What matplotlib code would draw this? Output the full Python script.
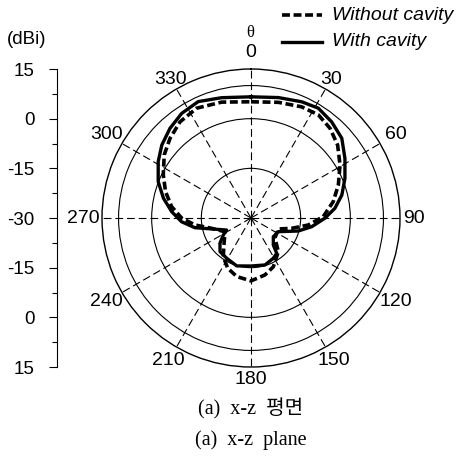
import numpy as np
import matplotlib
matplotlib.use("Agg")
import matplotlib.pyplot as plt

# ---- data (theta in degrees, clockwise from top; gain in dBi) ----
with_theta = [0, 12.8, 23.6, 31.5, 40.0, 48.7, 57.6, 67.1, 75.8, 83.4, 90.2, 98.2, 105.4,
              116.7, 130.0, 140.5, 143.9, 151.0, 163.4, 180, 196.6, 211.1, 222.6, 230.8,
              238.5, 243.7, 254.4, 260.2, 266.9, 274.5, 282.7, 291.4, 301.3, 309.3,
              317.9, 326.5, 335.6, 346.3, 360]
with_db = [6.6, 7.3, 8.3, 8.9, 7.9, 6.5, 3.6, 0.8, -1.7, -4.5, -7.7, -11.5, -15.2,
           -20.8, -21.2, -19.4, -16.8, -16.1, -15.2, -15.5, -14.9, -15.8, -16.2, -17.9,
           -20.2, -21.8, -17.7, -12.8, -9.0, -6.0, -2.9, 0.1, 2.8, 4.8,
           6.5, 7.9, 8.6, 7.4, 6.6]

without_theta = [0, 13.3, 24.5, 33.2, 41.4, 49.9, 59.2, 69.3, 78.8, 89.0, 97.0, 104.2,
                 111.9, 129.8, 137.1, 141.0, 155.4, 166.2, 180, 193.7, 204.9, 215.6,
                 226.1, 242.2, 255.3, 262.9, 269.8, 278.1, 287.1, 296.1, 306.0, 314.5,
                 323.6, 333.7, 345.8, 360]
without_db = [5.1, 5.9, 6.9, 7.2, 6.1, 4.2, 1.3, -1.8, -4.7, -8.2, -12.6, -17.3,
              -21.1, -20.6, -18.5, -16.9, -13.8, -12.3, -11.0, -11.8, -13.3, -15.6,
              -18.7, -21.1, -17.7, -13.0, -9.1, -5.8, -3.0, -0.5, 2.4, 4.3,
              6.1, 7.0, 6.1, 5.1]

angle_labels = ["0", "30", "60", "90", "120", "150", "180", "210", "240", "270", "300", "330"]
radial_circles = [-15, 0, 10]
r_min, r_max = -30, 15
left_ticks = [-45, -30, -15, 0, 15, 30, 45]
left_labels = ["15", "0", "-15", "-30", "-15", "0", "15"]

W, H = 470, 458
fig = plt.figure(figsize=(W / 100, H / 100), dpi=100)
sans = ["Liberation Sans", "DejaVu Sans"]

def fx(x):
    return x / W

def fy(y):
    return 1 - y / H

cx, cy, R = 251, 218, 149
ax = fig.add_axes([fx(cx - R), fy(cy + R), 2 * R / W, 2 * R / H], projection="polar")
ax.set_theta_zero_location("N")
ax.set_theta_direction(-1)
ax.set_rlim(r_min, r_max)
ax.set_rticks(radial_circles)
ax.set_yticklabels([])
ax.set_thetagrids(range(0, 360, 30), labels=[""] * 12)
ax.xaxis.grid(True, color="k", lw=0.8, ls=(0, (7, 3.5)))
ax.yaxis.grid(True, color="k", lw=0.8, ls="-")
ax.spines["polar"].set_linewidth(1.0)
ax.tick_params(axis="x", length=0)

ax.plot(np.radians(without_theta), without_db, color="k", lw=2.6, ls=(0, (2.2, 1.0)),
        solid_joinstyle="round")
ax.plot(np.radians(with_theta), with_db, color="k", lw=2.4, ls="-",
        solid_joinstyle="round")

# angle labels
lab_px = [166, 160, 167, 163, 167, 165, 162, 165, 167, 168, 167, 160]
for i, lab in enumerate(angle_labels):
    rr = r_min + (r_max - r_min) * lab_px[i] / R
    ax.text(np.radians(30 * i), rr, lab, ha="center", va="center",
            fontsize=14, family=sans, clip_on=False)
fig.text(fx(250), fy(33), "θ", ha="center", va="center", fontsize=12,
         family=["Liberation Serif", "DejaVu Serif"])

# left dBi axis
ax2 = fig.add_axes([fx(57), fy(cy + R), 0.0001, 2 * R / H])
ax2.set_ylim(-45, 45)
ax2.set_yticks(left_ticks)
ax2.set_yticklabels(left_labels, fontsize=13.5, family=sans)
ax2.set_yticks(np.arange(-37.5, 45, 15), minor=True)
ax2.tick_params(axis="y", which="major", length=6, width=0.8, pad=10)
ax2.tick_params(axis="y", which="minor", length=3.5, width=0.8)
ax2.set_xticks([])
for s in ["top", "bottom", "right"]:
    ax2.spines[s].set_visible(False)
ax2.spines["left"].set_linewidth(0.8)
ax2.patch.set_visible(False)
fig.text(fx(27), fy(39), "(dBi)", ha="center", va="center", fontsize=13.5, family=sans)

# legend
fig.add_artist(plt.Line2D([fx(282), fx(322)], [fy(15), fy(15)], color="k", lw=2.6,
                          ls=(0, (2.2, 1.0)), transform=fig.transFigure))
fig.add_artist(plt.Line2D([fx(282), fx(322)], [fy(42), fy(42)], color="k", lw=2.4,
                          transform=fig.transFigure))
fig.text(fx(332), fy(15), "Without cavity", ha="left", va="center", fontsize=14,
         style="italic", family=sans)
fig.text(fx(332), fy(42), "With cavity", ha="left", va="center", fontsize=14,
         style="italic", family=sans)

# captions
serif_kr = ["Liberation Serif", "Noto Sans CJK KR"]
fig.text(fx(251), fy(409), "(a)  x-z  평면", ha="center", va="center", fontsize=14.5,
         family=serif_kr)
fig.text(fx(251), fy(440), "(a)  x-z  plane", ha="center", va="center", fontsize=14.5,
         family=serif_kr)

fig.savefig("out.png", dpi=100)
